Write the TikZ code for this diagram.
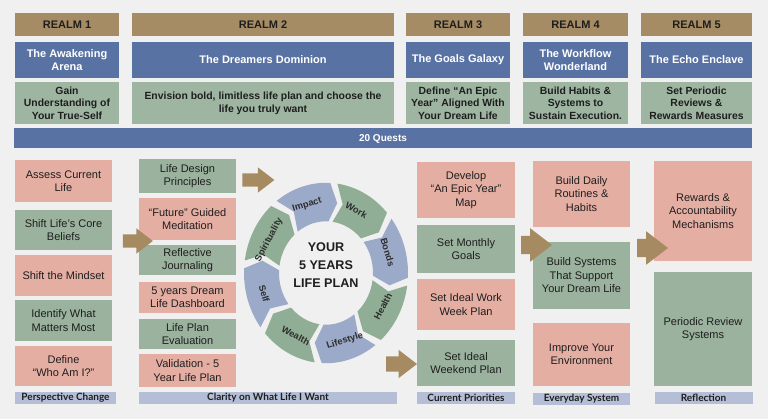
\documentclass[tikz,border=0pt]{standalone}
\usepackage{fontspec}
\setmainfont{Liberation Sans}
\newfontfamily\tagfont{Lato}
\usepackage{tikz}
\usetikzlibrary{positioning,shapes.arrows}

\definecolor{paper}{RGB}{240,240,240}
\definecolor{realmbrown}{RGB}{166,140,100}
\definecolor{realmblue}{RGB}{88,114,164}
\definecolor{realmgreen}{RGB}{158,181,162}
\definecolor{questpink}{RGB}{229,174,163}
\definecolor{questgreen}{RGB}{154,178,158}
\definecolor{tagblue}{RGB}{180,190,214}
\definecolor{ringblue}{RGB}{155,170,201}
\definecolor{ringgreen}{RGB}{144,174,149}
\definecolor{arrowbrown}{RGB}{166,139,98}
\definecolor{ink}{RGB}{30,30,30}

% one chevron of the life plan ring: #1 centre angle, #2 colour
\newcommand{\ringpart}[2]{%
  \fill[#2] ({#1+20}:82) arc[start angle={#1+20}, end angle={#1-20}, radius=82]
    -- ({#1-27}:64.5) -- ({#1-20}:47) arc[start angle={#1-20}, end angle={#1+20}, radius=47]
    -- ({#1+13}:64.5) -- cycle;}

\begin{document}
\begin{tikzpicture}[x=1pt, y=-1pt, text=ink,
    realm/.style = {fill=realmbrown, minimum height=23pt, inner sep=0pt,
      font=\bfseries\fontsize{11}{13}\selectfont},
    world/.style = {fill=realmblue, minimum height=36pt, inner sep=0pt, text=white, align=center,
      font=\bfseries\fontsize{11}{13.5}\selectfont},
    aim/.style = {fill=realmgreen, minimum height=42pt, inner sep=0pt, align=center,
      font=\bfseries\fontsize{10.4}{12.7}\selectfont},
    quest/.style = {minimum width=97pt, inner sep=0pt, align=center,
      font=\fontsize{11}{13.5}\selectfont},
    pinkq/.style = {quest, fill=questpink},
    greenq/.style = {quest, fill=questgreen},
    tag/.style = {fill=tagblue, minimum height=12pt, inner sep=0pt,
      font=\tagfont\bfseries\fontsize{10}{11}\selectfont},
    ringlabel/.style = {font=\bfseries\fontsize{9.3}{11}\selectfont, text={rgb,255:red,45;green,45;blue,45}},
    bigarrow/.style = {single arrow, fill=arrowbrown, inner xsep=0pt, inner ysep=6.5pt,
      single arrow head extend=6pt, single arrow tip angle=75, minimum height=30pt}]

\path[fill=paper, use as bounding box] (0,0) rectangle (768,419);

% realms
\node[realm, minimum width=104pt] (r1) at (67,24.5) {REALM 1};
\node[realm, minimum width=262pt] (r2) at (263,24.5) {REALM 2};
\node[realm, minimum width=104pt] (r3) at (458,24.5) {REALM 3};
\node[realm, minimum width=105pt] (r4) at (575.5,24.5) {REALM 4};
\node[realm, minimum width=111pt] (r5) at (696.5,24.5) {REALM 5};

\node[world, minimum width=104pt] (w1) at (67,60) {The Awakening\\Arena};
\node[world, minimum width=262pt] (w2) at (263,60) {The Dreamers Dominion};
\node[world, minimum width=104pt] (w3) at (458,60) {The Goals Galaxy};
\node[world, minimum width=105pt] (w4) at (575.5,60) {The Workflow\\Wonderland};
\node[world, minimum width=111pt] (w5) at (696.5,60) {The Echo Enclave};

\node[aim, minimum width=104pt] (g1) at (67,103) {Gain\\Understanding of\\Your True-Self};
\node[aim, minimum width=262pt] (g2) at (263,103) {Envision bold, limitless life plan and choose the\\life you truly want};
\node[aim, minimum width=104pt] (g3) at (458,103) {Define “An Epic\\Year” Aligned With\\Your Dream Life};
\node[aim, minimum width=105pt] (g4) at (575.5,103) {Build Habits \&\\Systems to\\Sustain Execution.};
\node[aim, minimum width=111pt] (g5) at (696.5,103) {Set Periodic\\Reviews \&\\Rewards Measures};

\node[fill=realmblue, minimum width=738pt, minimum height=20pt, inner sep=0pt, text=white,
  font=\bfseries\fontsize{10}{12}\selectfont] (quests) at (383,138.5) {20 Quests};

% perspective change
\node[pinkq, minimum height=42pt] (assess) at (63.5,181) {Assess Current\\Life};
\node[greenq, minimum height=40pt] (beliefs) at (63.5,230) {Shift Life’s Core\\Beliefs};
\node[pinkq, minimum height=41pt] (mindset) at (63.5,275.5) {Shift the Mindset};
\node[greenq, minimum height=41pt] (matters) at (63.5,320.5) {Identify What\\Matters Most};
\node[pinkq, minimum height=40pt] (whoami) at (63.5,366) {Define\\“Who Am I?”};
\node[tag, minimum width=101pt] (t1) at (65.5,398) {Perspective Change};

% clarity
\node[greenq, minimum height=34pt] (design) at (187.5,176) {Life Design\\Principles};
\node[pinkq, minimum height=42pt] (future) at (187.5,219) {“Future” Guided\\Meditation};
\node[greenq, minimum height=30pt] (journal) at (187.5,260) {Reflective\\Journaling};
\node[pinkq, minimum height=31pt] (dashboard) at (187.5,297.5) {5 years Dream\\Life Dashboard};
\node[greenq, minimum height=30pt] (evaluation) at (187.5,334) {Life Plan\\Evaluation};
\node[pinkq, minimum height=33pt] (validation) at (187.5,370.5) {Validation - 5\\Year Life Plan};
\node[tag, minimum width=258pt] (t2) at (268,398) {Clarity on What Life I Want};

% the ring
\begin{scope}[shift={(326,273)}, yscale=-1.1]
  \ringpart{107}{ringblue}
  \ringpart{62}{ringgreen}
  \ringpart{17}{ringblue}
  \ringpart{-28}{ringgreen}
  \ringpart{-73}{ringblue}
  \ringpart{-118}{ringgreen}
  \ringpart{-163}{ringblue}
  \ringpart{152}{ringgreen}
  \node[ringlabel, rotate=17] (impact) at (107:64.5) {Impact};
  \node[ringlabel, rotate=-28] (work) at (62:64.5) {Work};
  \node[ringlabel, rotate=-73] (bonds) at (17:64.5) {Bonds};
  \node[ringlabel, rotate=62] (health) at (-28:64.5) {Health};
  \node[ringlabel, rotate=17] (lifestyle) at (-73:64.5) {Lifestyle};
  \node[ringlabel, rotate=-28] (wealth) at (-118:64.5) {Wealth};
  \node[ringlabel, rotate=-73] (self) at (-163:64.5) {Self};
  \node[ringlabel, rotate=62] (spirit) at (152:64.5) {Spirituality};
\end{scope}
\node[align=center, font=\bfseries\fontsize{12.6}{18}\selectfont] (plan) at (326,265) {YOUR\\5 YEARS\\LIFE PLAN};

% current priorities
\node[pinkq, minimum width=98pt, minimum height=56pt] (epic) at (466,190) {Develop\\“An Epic Year”\\Map};
\node[greenq, minimum width=98pt, minimum height=48pt] (monthly) at (466,249) {Set Monthly\\Goals};
\node[pinkq, minimum width=98pt, minimum height=51pt] (workweek) at (466,304.5) {Set Ideal Work\\Week Plan};
\node[greenq, minimum width=98pt, minimum height=46pt] (weekend) at (466,363) {Set Ideal\\Weekend Plan};
\node[tag, minimum width=98pt] (t3) at (466,398) {Current Priorities};

% everyday system
\node[pinkq, minimum height=66pt] (routines) at (581.5,194) {Build Daily\\Routines \&\\Habits};
\node[greenq, minimum height=67pt] (systems) at (581.5,275.5) {Build Systems\\That Support\\Your Dream Life};
\node[pinkq, minimum height=63pt] (environment) at (581.5,354.5) {Improve Your\\Environment};
\node[tag, minimum width=97pt] (t4) at (581.5,398.5) {Everyday System};

% reflection
\node[pinkq, minimum width=98pt, minimum height=100pt] (rewards) at (703,211) {Rewards \&\\Accountability\\Mechanisms};
\node[greenq, minimum width=98pt, minimum height=114pt] (review) at (703,329) {Periodic Review\\Systems};
\node[tag, minimum width=98pt] (t5) at (703.5,398) {Reflection};

% block arrows
\node[bigarrow, minimum height=30pt] (a1) at (133.5,241) {};
\node[bigarrow, minimum height=32pt] (a2) at (254,180) {};
\node[bigarrow, minimum height=31pt, inner ysep=7.5pt, single arrow head extend=6.5pt] (a3) at (396.5,364) {};
\node[bigarrow, minimum height=31pt, inner ysep=9pt, single arrow head extend=7.5pt] (a4) at (530.5,245) {};
\node[bigarrow, minimum height=31pt, inner ysep=9pt, single arrow head extend=7.5pt] (a5) at (646.5,248) {};

\end{tikzpicture}
\end{document}
